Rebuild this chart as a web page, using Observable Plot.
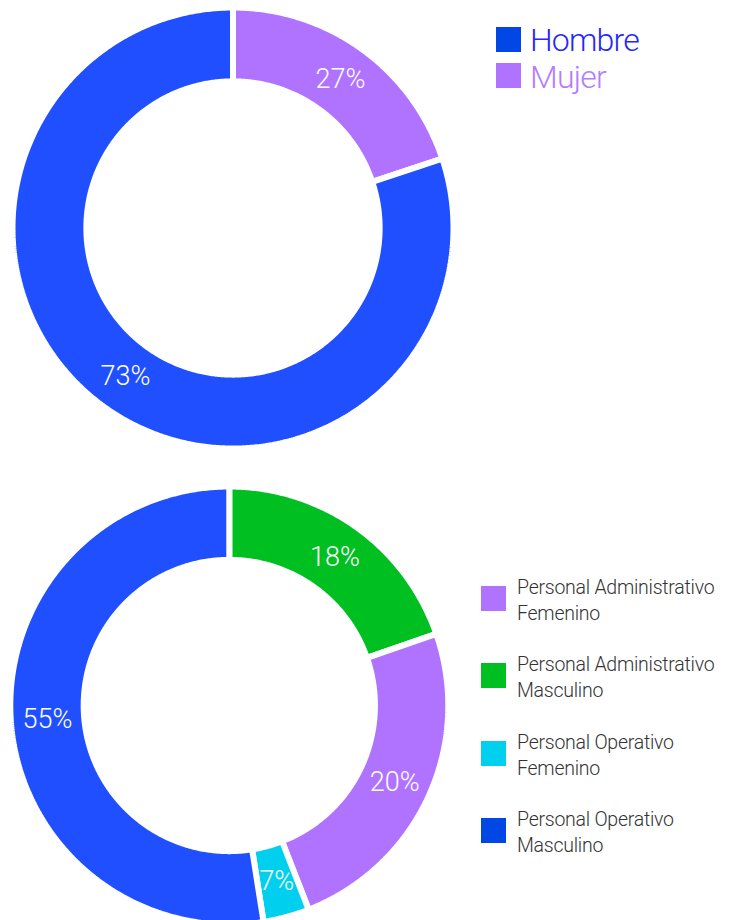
<!DOCTYPE html>
<html><head><meta charset="utf-8">
<script src="https://cdn.jsdelivr.net/npm/d3@7"></script>
<script src="https://cdn.jsdelivr.net/npm/@observablehq/plot@0.6"></script>
<style>
body{margin:0;background:#fff;}
#wrap{position:relative;width:730px;height:920px;overflow:hidden;font-family:Roboto,"Liberation Sans",sans-serif;}
.plot{position:absolute;left:0;}
.sq{position:absolute;width:25px;height:25px;}
.lt{position:absolute;white-space:nowrap;font-weight:300;}
</style></head><body><div id="wrap"></div>
<script>
// ---- Data: gender donut (drawn clockwise from 12 o'clock) ----
const genderCategories = ["Mujer", "Hombre"];
const genderShares = [19.9, 80.1];
const genderLabels = ["27%", "73%"];
const genderColors = ["#b073ff", "#1f4fff"];
const genderLegendNames = ["Hombre", "Mujer"];
const genderLegendColors = ["#0047e6", "#b073ff"];
const genderLegendTextColors = ["#2626ff", "#b47cff"];

// ---- Data: staff donut (drawn clockwise from 12 o'clock) ----
const staffCategories = ["Personal Administrativo Masculino", "Personal Administrativo Femenino", "Personal Operativo Femenino", "Personal Operativo Masculino"];
const staffShares = [19.7, 24.4, 3.4, 52.5];
const staffLabels = ["18%", "20%", "7%", "55%"];
const staffColors = ["#00c021", "#b073ff", "#00cfee", "#1f4fff"];
const staffLegendLines = [["Personal Administrativo", "Femenino"], ["Personal Administrativo", "Masculino"], ["Personal Operativo", "Femenino"], ["Personal Operativo", "Masculino"]];
const staffLegendColors = ["#b073ff", "#00c021", "#00cfee", "#0047e6"];

function donut(cats, shares, labels, colors, o) {
  const arcs = d3.pie().sort(null).value(d => d)(shares);
  const ring = [];
  arcs.forEach((p, i) => {
    const n = Math.max(2, Math.ceil((p.endAngle - p.startAngle) / (Math.PI / 360)));
    const ang = k => p.startAngle + (p.endAngle - p.startAngle) * k / n;
    for (let k = 0; k <= n; k++) ring.push({cat: cats[i], x: Math.sin(ang(k)), y: Math.cos(ang(k))});
    for (let k = n; k >= 0; k--) ring.push({cat: cats[i], x: o.inner * Math.sin(ang(k)), y: o.inner * Math.cos(ang(k))});
    ring.push({cat: cats[i], x: Math.sin(ang(0)), y: Math.cos(ang(0))}); // close the outline
  });
  const rm = (1 + o.inner) / 2;
  const labelPts = arcs.map((p, i) => {
    const a = (p.startAngle + p.endAngle) / 2;
    return {label: labels[i], x: rm * Math.sin(a), y: rm * Math.cos(a)};
  });
  const svg = Plot.plot({
    width: o.width, height: o.height, margin: 0,
    x: {domain: [-1, 1], range: [o.cx - o.R, o.cx + o.R], axis: null},
    y: {domain: [-1, 1], range: [o.cy + o.R, o.cy - o.R], axis: null},
    color: {domain: cats, range: colors},
    style: {fontFamily: "Roboto, 'Liberation Sans', sans-serif", background: "transparent", overflow: "hidden"},
    marks: [
      Plot.line(ring, {x: "x", y: "y", z: "cat", fill: "cat", stroke: "white", strokeWidth: 6, strokeLinejoin: "miter", strokeOpacity: 1}),
      Plot.text(labelPts, {x: "x", y: "y", text: "label", fill: "white", fontSize: 27, fontWeight: 300})
    ]
  });
  svg.classList.add("plot");
  return svg;
}

const wrap = document.getElementById("wrap");
const top1 = donut(genderCategories, genderShares, genderLabels, genderColors,
  {width: 470, height: 460, cx: 232.5, cy: 227.5, R: 220.5, inner: 0.665});
top1.style.top = "0px";
wrap.appendChild(top1);

const bot = donut(staffCategories, staffShares, staffLabels, staffColors,
  {width: 470, height: 460, cx: 228.8, cy: 245, R: 219, inner: 0.665});
bot.style.top = "460px";
wrap.appendChild(bot);

// top legend
genderLegendNames.forEach((name, i) => {
  const sq = document.createElement("div");
  sq.className = "sq";
  sq.style.left = "496px"; sq.style.top = (27 + i * 36) + "px";
  sq.style.background = genderLegendColors[i];
  wrap.appendChild(sq);
  const t = document.createElement("div");
  t.className = "lt";
  t.textContent = name;
  t.style.left = "530px"; t.style.top = (20 + i * 37) + "px";
  t.style.fontSize = "32px"; t.style.lineHeight = "40px"; t.style.letterSpacing = "-0.8px";
  t.style.color = genderLegendTextColors[i];
  wrap.appendChild(t);
});

// bottom legend
staffLegendLines.forEach((lines, i) => {
  const y = 586 + i * 77.4;
  const sq = document.createElement("div");
  sq.className = "sq";
  sq.style.left = "481px"; sq.style.top = y + "px";
  sq.style.background = staffLegendColors[i];
  wrap.appendChild(sq);
  const t = document.createElement("div");
  t.className = "lt";
  t.innerHTML = lines.join("<br>");
  t.style.left = "517px"; t.style.top = (y - 11) + "px";
  t.style.fontSize = "19.5px"; t.style.lineHeight = "26px"; t.style.letterSpacing = "-0.25px";
  t.style.color = "#333333";
  wrap.appendChild(t);
});
</script>
</body></html>
